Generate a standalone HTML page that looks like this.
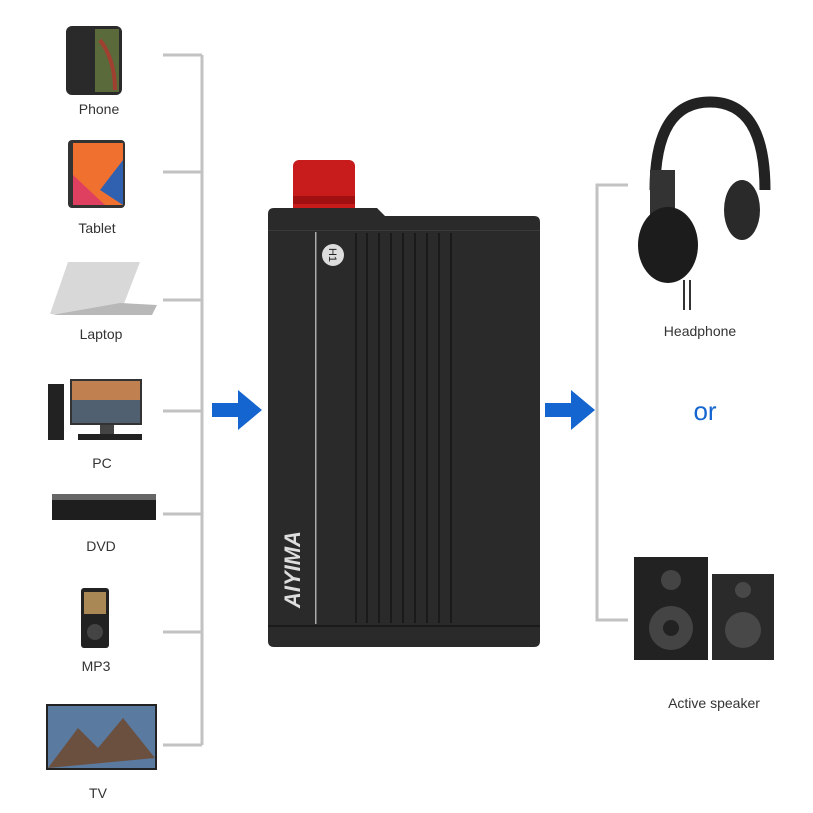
<!DOCTYPE html>
<html><head><style>body{margin:0;background:#fff}svg{display:block}text{font-family:"Liberation Sans",sans-serif}</style></head><body>
<svg width="813" height="813" viewBox="0 0 813 813">
<g stroke="#c2c2c2" stroke-width="3" fill="none">
<path d="M202 55V745M163 55H202M163 172H202M163 300H202M163 411H202M163 514H202M163 632H202M163 745H202"/>
<path d="M628 185H597V620H628"/>
</g>
<g fill="#1565d0">
<path d="M212 403h26v-13l24 20-24 20v-13h-26z"/>
<path d="M545 403h26v-13l24 20-24 20v-13h-26z"/>
</g>
<rect x="66" y="26" width="56" height="69" rx="6" fill="#2a2a2a"/>
<path d="M95 29h24v63h-24z" fill="#5a6a3a"/>
<path d="M100 40q15 20 15 50" stroke="#a04030" stroke-width="4" fill="none"/>
<rect x="68" y="140" width="57" height="68" rx="4" fill="#333"/>
<rect x="73" y="143" width="50" height="62" fill="#f07030"/>
<path d="M123 160L100 190L123 205z" fill="#3060b0"/><path d="M73 175L105 205H73z" fill="#e04060"/>
<path d="M68 262h72l-20 52H50z" fill="#d8d8d8"/>
<path d="M120 303l37 2-5 10h-100z" fill="#b8b8b8"/>
<rect x="48" y="384" width="16" height="56" fill="#222"/>
<rect x="70" y="379" width="72" height="46" fill="#333"/>
<rect x="72" y="381" width="68" height="42" fill="#c08050"/>
<rect x="72" y="400" width="68" height="23" fill="#506070"/>
<rect x="100" y="425" width="14" height="9" fill="#444"/><rect x="78" y="434" width="64" height="6" fill="#222"/>
<rect x="52" y="494" width="104" height="26" fill="#1e1e1e"/>
<rect x="52" y="494" width="104" height="6" fill="#666"/>
<rect x="81" y="588" width="28" height="60" rx="3" fill="#222"/>
<rect x="84" y="592" width="22" height="22" fill="#a85"/>
<circle cx="95" cy="632" r="8" fill="#444"/>
<rect x="46" y="704" width="111" height="66" fill="#222"/>
<rect x="48" y="706" width="107" height="62" fill="#5a7aa0"/>
<path d="M48 768l30-40 20 20 25-30 32 40z" fill="#6b5040"/>
<g font-size="14" fill="#333" text-anchor="middle">
<text x="99" y="114">Phone</text><text x="97" y="233">Tablet</text><text x="101" y="339">Laptop</text>
<text x="102" y="468">PC</text><text x="101" y="551">DVD</text><text x="96" y="671">MP3</text><text x="98" y="798">TV</text>
<text x="700" y="336">Headphone</text><text x="714" y="708">Active speaker</text>
</g>
<text x="705" y="420" font-size="26" fill="#1565d0" text-anchor="middle">or</text>
<rect x="293" y="160" width="62" height="62" rx="6" fill="#c81c1c"/>
<rect x="293" y="196" width="62" height="8" fill="#a01010"/>
<path d="M274 208H377l8 8H534q6 0 6 6V641q0 6-6 6H274q-6 0-6-6V214q0-6 6-6z" fill="#2a2a2b"/>
<rect x="268" y="230" width="272" height="1" fill="#3a3a3a"/>
<rect x="315" y="232" width="1.5" height="392" fill="#aaa"/>
<rect x="268" y="625" width="272" height="2" fill="#1a1a1a"/>
<g stroke="#1a1a1a" stroke-width="2">
<path d="M356 233V623M367 233V623M379 233V623M391 233V623M403 233V623M415 233V623M427 233V623M439 233V623M451 233V623"/>
</g>
<circle cx="333" cy="255" r="11" fill="#ddd"/>
<text x="333" y="255" font-size="11" fill="#222" text-anchor="middle" transform="rotate(90 333 255)" dy="4">H1</text>
<text x="300" y="608" font-size="22" font-weight="bold" font-style="italic" fill="#ddd" transform="rotate(-90 300 608)">AIYIMA</text>
<path d="M655 190q0-88 55-88t55 88" stroke="#222" stroke-width="11" fill="none"/>
<path d="M650 170h25v60h-25z" fill="#333"/>
<ellipse cx="668" cy="245" rx="30" ry="38" fill="#1c1c1c"/>
<ellipse cx="742" cy="210" rx="18" ry="30" fill="#2a2a2a"/>
<path d="M684 280v30M690 280v30" stroke="#333" stroke-width="2"/>
<rect x="634" y="557" width="74" height="103" fill="#222"/>
<circle cx="671" cy="628" r="22" fill="#444"/><circle cx="671" cy="628" r="8" fill="#222"/>
<circle cx="671" cy="580" r="10" fill="#444"/>
<rect x="712" y="574" width="62" height="86" fill="#2a2a2a"/>
<circle cx="743" cy="630" r="18" fill="#484848"/><circle cx="743" cy="590" r="8" fill="#484848"/>
</svg>
</body></html>
